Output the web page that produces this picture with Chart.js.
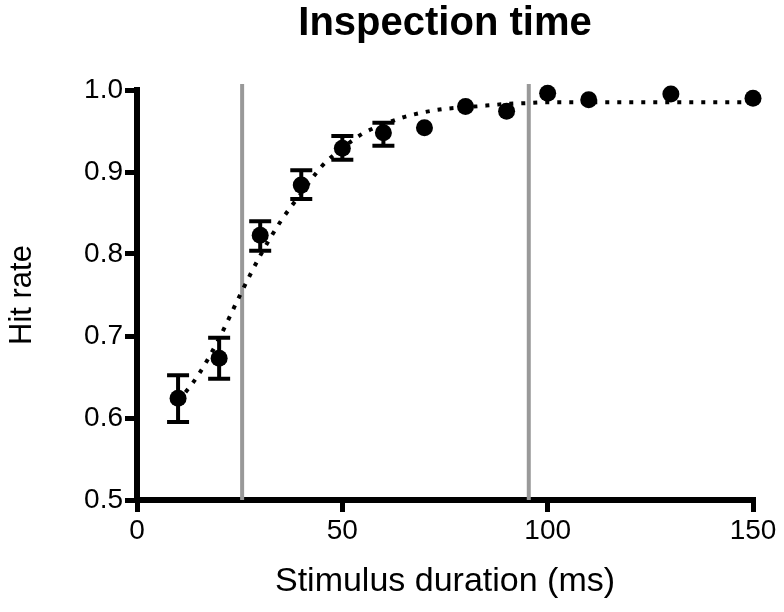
<!DOCTYPE html>
<html><head><meta charset="utf-8">
<script src="https://cdn.jsdelivr.net/npm/chart.js@4/dist/chart.umd.min.js"></script>
<style>html,body{margin:0;padding:0;background:#fff}#wrap{width:784px;height:612px}</style>
</head><body><div id="wrap"><canvas id="c" width="784" height="612"></canvas></div>
<script>
// ---- data ----
const durations = [10, 20, 30, 40, 50, 60, 70, 80, 90, 100, 110, 130, 150];
const hitRates  = [0.624, 0.673, 0.823, 0.884, 0.929, 0.948, 0.954, 0.980, 0.974, 0.996, 0.988, 0.995, 0.990];
const errLow    = [0.595, 0.648, 0.804, 0.867, 0.915, 0.932, null, null, null, null, null, null, null];
const errHigh   = [0.652, 0.698, 0.840, 0.902, 0.944, 0.960, null, null, null, null, null, null, null];
const fitX = [10, 15, 20, 25, 30, 35, 40, 45, 50, 55, 60, 65, 70, 75, 80, 85, 90, 95, 100, 110, 120, 130, 140, 150];
const fitY = [0.620, 0.653, 0.697, 0.749, 0.798, 0.840, 0.874, 0.907, 0.929, 0.947, 0.958, 0.967, 0.973, 0.977, 0.979, 0.981, 0.983, 0.984, 0.985, 0.985, 0.985, 0.985, 0.985, 0.985];
const markerLines = [25.6, 95.4];
const xTickValues = [0, 50, 100, 150];
const yTickValues = [0.5, 0.6, 0.7, 0.8, 0.9, 1.0];
const chartTitle = 'Inspection time';
const xTitle = 'Stimulus duration (ms)';
const yTitle = 'Hit rate';

Chart.defaults.font.family = "'Liberation Sans', Arial, sans-serif";
Chart.defaults.color = '#000';

const vlinePlugin = {
  id: 'vlines',
  beforeDatasetsDraw(chart) {
    const {ctx, chartArea, scales} = chart;
    ctx.save();
    ctx.strokeStyle = '#999999';
    ctx.lineWidth = 4;
    markerLines.forEach(v => {
      const px = scales.x.getPixelForValue(v);
      ctx.beginPath();
      ctx.moveTo(px, chartArea.top - 6);
      ctx.lineTo(px, chartArea.bottom);
      ctx.stroke();
    });
    ctx.restore();
  }
};

const errPlugin = {
  id: 'errbars',
  afterDatasetsDraw(chart) {
    const {ctx, scales} = chart;
    ctx.save();
    ctx.strokeStyle = '#000';
    ctx.lineWidth = 4;
    ctx.lineCap = 'butt';
    durations.forEach((d, i) => {
      if (errLow[i] == null) return;
      const px = scales.x.getPixelForValue(d);
      const y1 = scales.y.getPixelForValue(errLow[i]);
      const y2 = scales.y.getPixelForValue(errHigh[i]);
      ctx.beginPath();
      ctx.moveTo(px, y1); ctx.lineTo(px, y2);
      ctx.moveTo(px - 11, y1); ctx.lineTo(px + 11, y1);
      ctx.moveTo(px - 11, y2); ctx.lineTo(px + 11, y2);
      ctx.stroke();
    });
    ctx.restore();
  }
};

new Chart(document.getElementById('c'), {
  type: 'scatter',
  data: {
    datasets: [
      {
        label: 'Fit',
        data: fitX.map((x, i) => ({x, y: fitY[i]})),
        showLine: true,
        borderColor: '#000',
        borderWidth: 4,
        borderDash: [4, 8],
        borderCapStyle: 'butt',
        cubicInterpolationMode: 'monotone',
        pointRadius: 0,
        clip: false,
        order: 2
      },
      {
        label: 'Hit rate',
        data: durations.map((x, i) => ({x, y: hitRates[i]})),
        showLine: false,
        pointRadius: 8.5,
        pointBackgroundColor: '#000',
        pointBorderWidth: 0,
        clip: false,
        order: 1
      }
    ]
  },
  options: {
    responsive: false,
    animation: false,
    devicePixelRatio: 1,
    layout: {padding: {top: 0, left: 0, right: 31, bottom: 10}},
    plugins: {
      legend: {display: false},
      tooltip: {enabled: false},
      title: {
        display: true,
        fullSize: false,
        text: chartTitle,
        color: '#000',
        font: {size: 40, weight: 'bold'},
        padding: {top: 0, bottom: 42}
      }
    },
    scales: {
      x: {
        type: 'linear',
        min: 0, max: 150,
        afterBuildTicks(scale) { scale.ticks = xTickValues.map(v => ({value: v})); },
        afterFit(scale) { scale.height = 102; },
        ticks: {font: {size: 28}, color: '#000', padding: 2, maxRotation: 0,
                callback: v => String(v)},
        grid: {drawOnChartArea: false, drawTicks: true, lineWidth: 5, tickLength: 12, tickWidth: 5, tickColor: '#000'},
        border: {display: true, width: 6, color: '#000'},
        title: {display: true, text: xTitle, color: '#000', font: {size: 34}, padding: {top: 2, bottom: 0}}
      },
      y: {
        type: 'linear',
        min: 0.5, max: 1.0,
        afterBuildTicks(scale) { scale.ticks = yTickValues.map(v => ({value: v})); },
        afterFit(scale) { scale.width = 137; },
        ticks: {font: {size: 28}, color: '#000', padding: 2,
                callback: v => Number(v).toFixed(1)},
        grid: {drawOnChartArea: false, drawTicks: true, lineWidth: 5, tickLength: 12, tickWidth: 5, tickColor: '#000'},
        border: {display: true, width: 6, color: '#000'},
        title: {display: true, text: yTitle, color: '#000', font: {size: 31}, padding: {top: 4, bottom: 0}}
      }
    }
  },
  plugins: [vlinePlugin, errPlugin]
});
</script></body></html>
